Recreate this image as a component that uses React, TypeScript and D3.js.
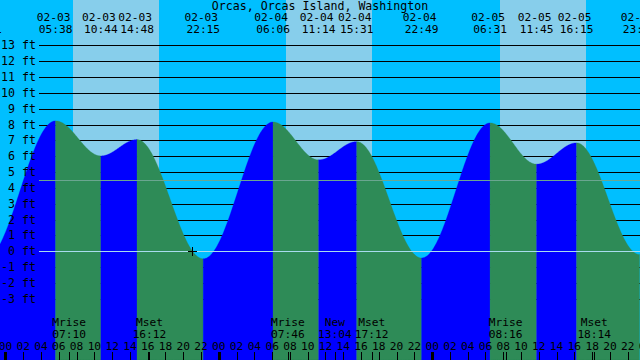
import React from 'react';
import * as d3 from 'd3';

const TITLE = 'Orcas, Orcas Island, Washington';
const DOMAIN = ['2024-02-02 23:23', '2024-02-05 23:23'];

const tideTimes = [
  '2024-02-02 21:41', '2024-02-03 05:38', '2024-02-03 10:44', '2024-02-03 14:48', '2024-02-03 22:15',
  '2024-02-04 06:06', '2024-02-04 11:14', '2024-02-04 15:31', '2024-02-04 22:49',
  '2024-02-05 06:31', '2024-02-05 11:45', '2024-02-05 16:15', '2024-02-05 23:20',
];
const tideLevels = [-0.5, 8.23, 6.02, 7.05, -0.47, 8.16, 5.77, 6.92, -0.42, 8.1, 5.5, 6.84, -0.2];

const sunrise = ['2024-02-03 07:36', '2024-02-04 07:34', '2024-02-05 07:37'];
const sunset = ['2024-02-03 17:17', '2024-02-04 17:14', '2024-02-05 17:18'];

const moonTimes = [
  '2024-02-03 07:10', '2024-02-03 16:12', '2024-02-04 07:46', '2024-02-04 13:04',
  '2024-02-04 17:12', '2024-02-05 08:16', '2024-02-05 18:14',
];
const moonNames = ['Mrise', 'Mset', 'Mrise', 'New', 'Mset', 'Mrise', 'Mset'];

const levelTicks = [13, 12, 11, 10, 9, 8, 7, 6, 5, 4, 3, 2, 1, 0, -1, -2, -3];
const MID_LEVEL = 4.5;
const NOW = '2024-02-03 21:02';

const W = 640;
const H = 360;
const FONT = '"DejaVu Sans Mono", "Liberation Mono", monospace';
const FS = 11.2;

const parse = d3.timeParse('%Y-%m-%d %H:%M');

export default function App() {
  const x = d3.scaleTime().domain(DOMAIN.map((d) => parse(d)!)).range([0, W]);
  const y = d3.scaleLinear().domain([0, 13]).range([251.3, 45.3]);
  const ty = (v: number) => Math.round(y(v)) + 0.5;

  const events = tideTimes.map((t, i) => ({ t: parse(t)!, v: tideLevels[i] }));
  const levelAt = (tm: Date) => {
    const ms = tm.getTime();
    for (let i = 0; i < events.length - 1; i++) {
      const a = events[i], b = events[i + 1];
      if (ms >= a.t.getTime() && ms <= b.t.getTime()) {
        const f = (ms - a.t.getTime()) / (b.t.getTime() - a.t.getTime());
        return a.v + (b.v - a.v) * (1 - Math.cos(Math.PI * f)) / 2;
      }
    }
    return events[events.length - 1].v;
  };

  const area = d3
    .area<{ t: Date; v: number }>()
    .x((d) => x(d.t))
    .y0(H)
    .y1((d) => y(d.v));

  const segments = events.slice(0, -1).map((a, i) => {
    const b = events[i + 1];
    const pts: { t: Date; v: number }[] = [];
    const n = 120;
    for (let k = 0; k <= n; k++) {
      const f = k / n;
      const t = new Date(a.t.getTime() + (b.t.getTime() - a.t.getTime()) * f);
      pts.push({ t, v: a.v + (b.v - a.v) * (1 - Math.cos(Math.PI * f)) / 2 });
    }
    return { d: area(pts) || '', color: b.v > a.v ? '#0000ff' : '#2e8b57' };
  });

  const hourTicks = d3.timeHour.every(2)!.range(x.domain()[0], d3.timeHour.offset(x.domain()[1], 2));
  const hourTicksAll = [d3.timeHour.offset(d3.timeHour.floor(x.domain()[0]), -1), ...hourTicks].filter(
    (d) => d.getHours() % 2 === 0
  );
  const fmtDate = d3.timeFormat('%m-%d');
  const fmtTime = d3.timeFormat('%H:%M');
  const fmtHour = d3.timeFormat('%H');

  const now = parse(NOW)!;
  const nowX = Math.round(x(now));
  const nowY = Math.round(y(levelAt(now)));

  return (
    <svg
      width={W}
      height={H}
      style={{ position: 'fixed', left: 0, top: 0, display: 'block' }}
      fontFamily={FONT}
      fontSize={FS}
    >
      <rect x={0} y={0} width={W} height={H} fill="#00bfff" />
      {sunrise.map((s, i) => {
        const x0 = Math.round(x(parse(s)!));
        const x1 = Math.round(x(parse(sunset[i])!));
        return <rect key={'day' + i} x={x0} y={0} width={x1 - x0} height={H} fill="#87ceeb" />;
      })}
      {levelTicks.map((v) => (
        <line key={'g' + v} x1={39} x2={W} y1={ty(v)} y2={ty(v)} stroke="#000" strokeWidth={1} />
      ))}
      {segments.map((s, i) => (
        <path key={'seg' + i} d={s.d} fill={s.color} stroke={s.color} strokeWidth={0.3} />
      ))}
      <line x1={39} x2={W} y1={ty(MID_LEVEL)} y2={ty(MID_LEVEL)} stroke="#6aa690" strokeWidth={1} />
      <line x1={39} x2={W} y1={ty(0)} y2={ty(0)} stroke="#a8dcee" strokeWidth={1} />
      {levelTicks.map((v) => (
        <text key={'l' + v} x={36} y={ty(v) + 3.5} textAnchor="end" fill="#000" fontSize={11.6}>
          {`${v} ft`}
        </text>
      ))}
      <text x={W / 2} y={10} textAnchor="middle" fill="#000" fontSize={11.6}>
        {TITLE}
      </text>
      {events.map((e, i) => (
        <g key={'ev' + i} fill="#000" textAnchor="middle">
          <text x={x(e.t) - 2} y={21}>{fmtDate(e.t)}</text>
          <text x={x(e.t)} y={33}>{fmtTime(e.t)}</text>
        </g>
      ))}
      {moonTimes.map((m, i) => {
        const t = parse(m)!;
        const mx = x(t);
        return (
          <g key={'m' + i} fill="#000" textAnchor="middle">
            <text x={mx} y={326}>{moonNames[i]}</text>
            <text x={mx} y={338}>{fmtTime(t)}</text>
            <line x1={Math.round(mx) + 0.5} x2={Math.round(mx) + 0.5} y1={352} y2={H} stroke="#000" />
          </g>
        );
      })}
      {hourTicksAll.map((h, i) => {
        const hx = x(h);
        const mid = h.getHours() === 0;
        return (
          <g key={'h' + i}>
            <text x={hx} y={350} textAnchor="middle" fill="#000">
              {fmtHour(h)}
            </text>
            {mid ? (
              <rect x={Math.round(hx) - 1} y={352} width={3} height={H - 352} fill="#000" />
            ) : (
              <line x1={Math.round(hx) + 0.5} x2={Math.round(hx) + 0.5} y1={352} y2={H} stroke="#000" />
            )}
          </g>
        );
      })}
      <g stroke="#000" strokeWidth={1}>
        <line x1={nowX - 4} x2={nowX + 5} y1={nowY + 0.5} y2={nowY + 0.5} />
        <line x1={nowX + 0.5} x2={nowX + 0.5} y1={nowY - 4} y2={nowY + 5} />
      </g>
    </svg>
  );
}
